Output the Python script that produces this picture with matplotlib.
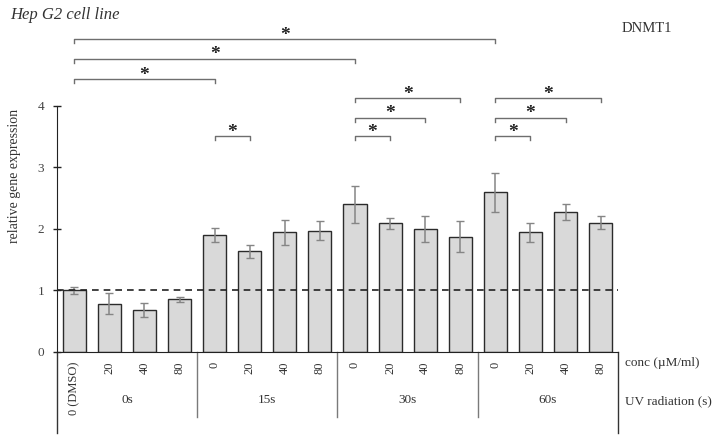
import matplotlib as mpl
import matplotlib.pyplot as plt
import numpy as np

mpl.rcParams['font.family'] = ['Liberation Serif', 'DejaVu Serif']
mpl.rcParams['font.size'] = 9

# data
conc_labels = ['0 (DMSO)', '20', '40', '80',
               '0', '20', '40', '80',
               '0', '20', '40', '80',
               '0', '20', '40', '80']
uv_groups = ['0s', '15s', '30s', '60s']
means = [1.00, 0.78, 0.68, 0.85,
         1.90, 1.63, 1.94, 1.97,
         2.40, 2.09, 1.99, 1.87,
         2.59, 1.94, 2.28, 2.10]
errors = [0.06, 0.17, 0.12, 0.035,
          0.11, 0.10, 0.21, 0.16,
          0.30, 0.09, 0.21, 0.25,
          0.31, 0.16, 0.13, 0.10]
# significance brackets: (from bar, to bar, height)
sig_pairs = [(0, 4, 4.43), (0, 8, 4.76), (0, 12, 5.08),
             (4, 5, 3.50),
             (8, 9, 3.50), (8, 10, 3.80), (8, 11, 4.12),
             (12, 13, 3.50), (12, 14, 3.80), (12, 15, 4.12)]

fig = plt.figure(figsize=(7.12, 4.42), dpi=100)
ax = fig.add_axes([56.7 / 712, 90.3 / 442, 561.5 / 712, 351.7 / 442])

x = np.arange(len(means))
ax.bar(x, means, width=0.66, color='#d9d9d9', edgecolor='#2b2b2b', linewidth=1.0, zorder=2)
ax.errorbar(x, means, yerr=errors, fmt='none', ecolor='#858585', elinewidth=1.1,
            capsize=3, capthick=1.0, zorder=3)

ax.axhline(1.0, color='#222222', linestyle=(0, (4, 3)), linewidth=1.2, zorder=4)

ax.set_xlim(-0.5, len(means) - 0.5)
ax.set_ylim(0, 5.72)
ax.set_yticks([0, 1, 2, 3, 4])
ax.spines['left'].set_bounds(0, 4)
ax.spines['top'].set_visible(False)
ax.spines['right'].set_visible(False)
ax.spines['left'].set_color('#222222')
ax.spines['bottom'].set_color('#222222')
ax.tick_params(axis='y', direction='inout', length=6, width=1, pad=6,
               labelsize=9.5, colors='#222222', labelcolor='#444444')
ax.set_ylabel('relative gene expression', fontsize=10, color='#333333', labelpad=12)

ax.set_xticks(x)
ax.set_xticklabels(conc_labels, rotation=90, va='top', fontsize=9, color='#333333')
ax.tick_params(axis='x', length=0, pad=7)

# significance brackets
for i, j, h in sig_pairs:
    ax.plot([i, i, j, j], [h - 0.06, h, h, h - 0.06], color='#6e6e6e', linewidth=1.0,
            clip_on=False)
    ax.text((i + j) / 2, h + 0.07, '*', ha='center', va='center', fontsize=14,
            fontweight='bold', color='#222222')

# table-like area below the axis
for k in range(1, len(uv_groups)):
    xd = 4 * k - 0.5
    ax.plot([xd, xd], [0, -1.06], color='#7a7a7a', linewidth=1.0, clip_on=False)
for xd in (-0.5, len(means) - 0.5):
    ax.plot([xd, xd], [0, -1.33], color='#333333', linewidth=1.0, clip_on=False)
for k, g in enumerate(uv_groups):
    ax.text(4 * k + 1.5, -0.79, g, ha='center', va='center', fontsize=9.5, color='#333333')

ax.text(15.7, -0.18, 'conc (\u00b5M/ml)', ha='left', va='center', fontsize=9.5, color='#333333')
ax.text(15.7, -0.80, 'UV radiation (s)', ha='left', va='center', fontsize=9.5, color='#333333')

fig.text(10 / 712, 1 - 15 / 442, 'Hep G2 cell line', ha='left', va='center',
         fontsize=12, style='italic', color='#333333')
fig.text(622 / 712, 1 - 28 / 442, 'DNMT1', ha='left', va='center',
         fontsize=10.5, color='#333333')

fig.savefig('out.png', dpi=100)
